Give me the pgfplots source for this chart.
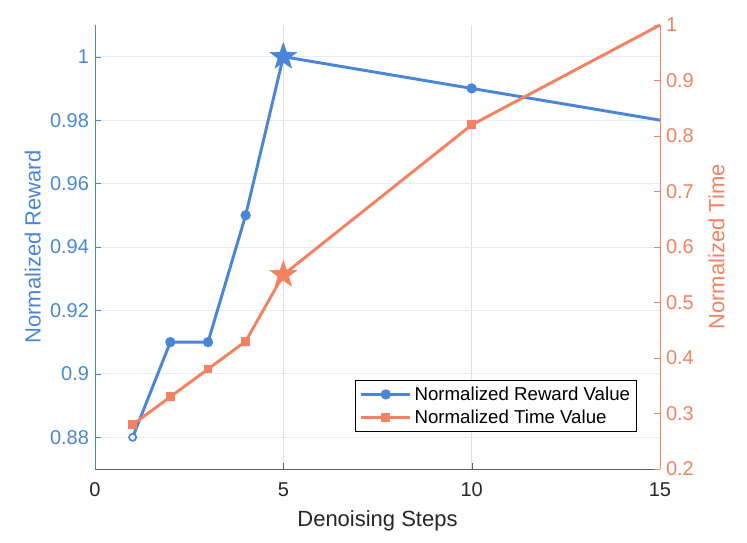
\documentclass[border=0pt]{standalone}
\usepackage{fontspec}
\setmainfont{Liberation Sans}
\usepackage{pgfplots}
\pgfplotsset{compat=1.18}

\definecolor{rblue}{RGB}{74,134,216}
\definecolor{torange}{RGB}{242,130,97}
\definecolor{axgray}{RGB}{95,95,95}
\definecolor{txtgray}{RGB}{38,38,38}
\definecolor{gridblue}{RGB}{228,236,248}
\definecolor{gridgray}{RGB}{222,222,230}

% filled five-pointed star
\pgfdeclareplotmark{fstar}{%
  \pgfpathmoveto{\pgfpointpolar{90}{\pgfplotmarksize}}%
  \pgfpathlineto{\pgfpointpolar{126}{0.4*\pgfplotmarksize}}%
  \pgfpathlineto{\pgfpointpolar{162}{\pgfplotmarksize}}%
  \pgfpathlineto{\pgfpointpolar{198}{0.4*\pgfplotmarksize}}%
  \pgfpathlineto{\pgfpointpolar{234}{\pgfplotmarksize}}%
  \pgfpathlineto{\pgfpointpolar{270}{0.4*\pgfplotmarksize}}%
  \pgfpathlineto{\pgfpointpolar{306}{\pgfplotmarksize}}%
  \pgfpathlineto{\pgfpointpolar{342}{0.4*\pgfplotmarksize}}%
  \pgfpathlineto{\pgfpointpolar{18}{\pgfplotmarksize}}%
  \pgfpathlineto{\pgfpointpolar{54}{0.4*\pgfplotmarksize}}%
  \pgfpathclose
  \pgfusepathqfillstroke}

\pgfplotsset{
  common/.style={
    scale only axis, width=423.75pt, height=333pt,
    xmin=0, xmax=15,
    tick align=inside, major tick length=4.5pt,
    /pgf/number format/assume math mode=true,
    tick label style={font=\fontsize{15}{18}\selectfont},
    label style={font=\fontsize{16.5}{20}\selectfont},
    scaled y ticks=false,
  },
}

\begin{document}
\begin{tikzpicture}
\begin{axis}[
  common,
  ymin=0.87, ymax=1.01,
  axis x line*=bottom, axis y line*=left,
  x axis line style={-, draw=axgray, line width=0.6pt},
  y axis line style={-, draw=rblue, line width=0.6pt},
  xtick={0,5,10,15},
  ytick={0.88,0.90,0.92,0.94,0.96,0.98,1},
  xtick style={draw=axgray}, ytick style={draw=rblue},
  xticklabel style={text=txtgray, yshift=-7pt},
  yticklabel style={text=rblue, xshift=-1pt},
  xmajorgrids, ymajorgrids,
  x grid style={gridgray, line width=0.6pt},
  y grid style={gridblue, line width=0.6pt},
  xlabel={Denoising Steps}, ylabel={Normalized Reward},
  xlabel style={text=txtgray, yshift=-3.5pt}, ylabel style={text=rblue},
]
\addplot[rblue, line width=2.2pt, mark=*, mark size=2.7pt, mark indices={2,3,4,6}]
  coordinates {(1,0.88) (2,0.91) (3,0.91) (4,0.95) (5,1.00) (10,0.99) (15,0.98)};
\addplot[rblue, only marks, mark=*, mark size=2.7pt,
  mark options={fill=white, draw=rblue, line width=1.3pt}, forget plot]
  coordinates {(1,0.88)};
\addplot[rblue, only marks, mark=fstar, mark size=10.5pt, forget plot]
  coordinates {(5,1.00)};
\end{axis}

\begin{axis}[
  common,
  ymin=0.2, ymax=1,
  axis x line=none, axis y line*=right,
  y axis line style={-, draw=torange, line width=0.6pt},
  ytick={0.2,0.3,0.4,0.5,0.6,0.7,0.8,0.9,1},
  ytick style={draw=torange},
  yticklabel style={text=torange, xshift=1pt},
  ylabel={Normalized Time}, ylabel style={text=torange, yshift=-4pt},
  legend cell align=left,
  legend style={at={(axis description cs:1,0)}, anchor=south east,
    xshift=-17.25pt, yshift=27.75pt,
    draw=black, fill=white,
    font=\fontsize{14}{16}\selectfont, text=black,
    row sep=1.5pt, inner ysep=3pt, inner xsep=3pt},
  legend image code/.code={%
    \draw[mark indices={2}] plot coordinates {(0pt,0pt) (18.5pt,0pt) (37pt,0pt)};},
]
\coordinate (bl) at (rel axis cs:0,0);
\coordinate (tr) at (rel axis cs:1,1);
\addlegendimage{rblue, line width=2.2pt, mark=*, mark size=2.7pt}
\addlegendentry{Normalized Reward Value}
\addplot[torange, line width=2.2pt, mark=square*, mark size=2.2pt, mark indices={1,2,3,4,6}]
  coordinates {(1,0.28) (2,0.33) (3,0.38) (4,0.43) (5,0.55) (10,0.82) (15,1.00)};
\addlegendentry{Normalized Time Value}
\addplot[torange, only marks, mark=fstar, mark size=10.5pt, forget plot]
  coordinates {(5,0.55)};
\end{axis}
\path ([shift={(-71.25pt,-55.5pt)}]bl) rectangle ([shift={(65.25pt,18.75pt)}]tr);
\end{tikzpicture}
\end{document}
